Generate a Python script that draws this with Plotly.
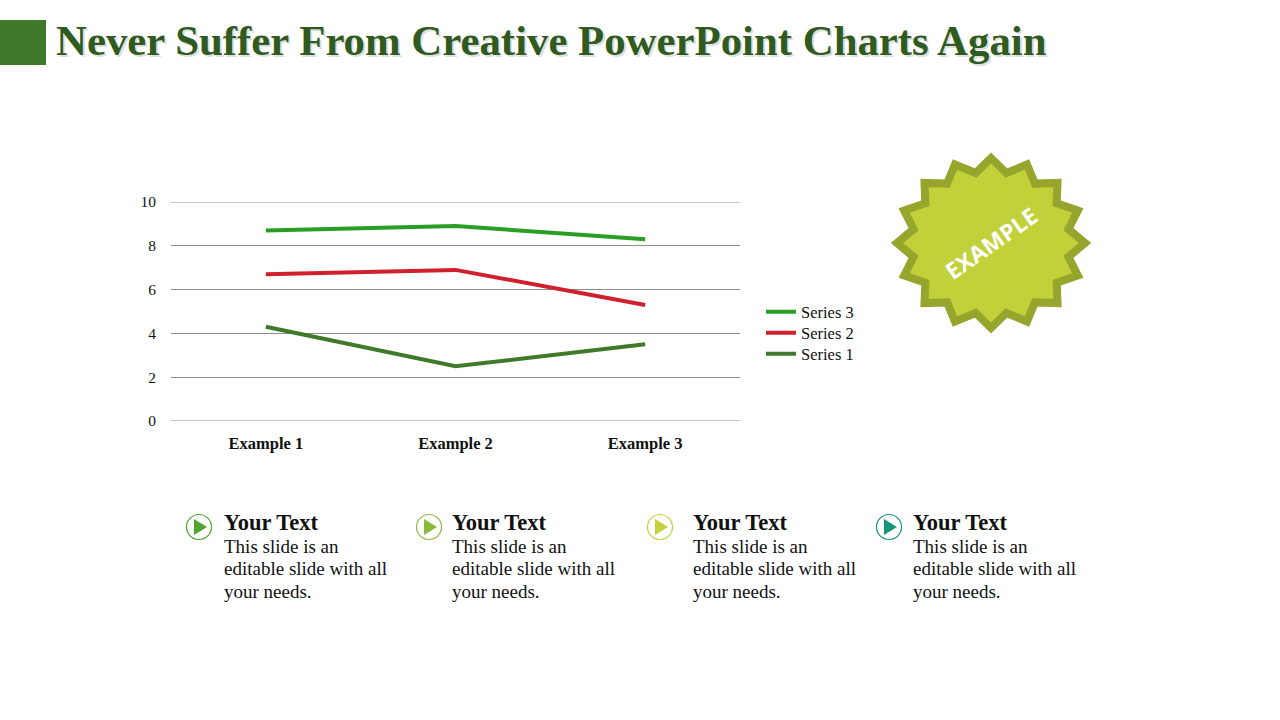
import math
import plotly.graph_objects as go

categories = ["Example 1", "Example 2", "Example 3"]
series1 = [4.3, 2.5, 3.5]
series2 = [6.7, 6.9, 5.3]
series3 = [8.7, 8.9, 8.3]
series_names = ["Series 1", "Series 2", "Series 3"]
series_colors = ["#3f7a2a", "#d0202e", "#2a9e24"]
y_ticks = [0, 2, 4, 6, 8, 10]

title_text = "Never Suffer From Creative PowerPoint Charts Again"
item_titles = ["Your Text", "Your Text", "Your Text", "Your Text"]
item_lines = ["This slide is an", "editable slide with all", "your needs."]
icon_colors = ["#4fa42f", "#8aba3a", "#c3d23a", "#14967a"]
icon_x = [199, 429, 660, 889]
text_x = [223, 451, 692, 912]

SERIF = "Liberation Serif, DejaVu Serif, serif"

legend_ids = ["legend3", "legend2", "legend"]  # Series 1 lowest, Series 3 top
legend_y = [354, 333, 312]

fig = go.Figure()
for name, vals, col, lid in zip(series_names, [series1, series2, series3], series_colors, legend_ids):
    fig.add_trace(go.Scatter(x=categories, y=vals, name=name, mode="lines", legend=lid,
                             line=dict(color=col, width=4), xaxis="x", yaxis="y"))

# invisible overlay axis in pixel space for decorations
fig.add_trace(go.Scatter(x=[0], y=[0], mode="markers", marker=dict(opacity=0),
                         showlegend=False, hoverinfo="skip", xaxis="x2", yaxis="y2"))

shapes = []
# gridlines at the range ends (plotly hides them at the edges)
for yv in (y_ticks[0], y_ticks[-1]):
    shapes.append(dict(type="line", xref="x domain", yref="y", x0=0, x1=1, y0=yv, y1=yv,
                       line=dict(color="#8c8c8c", width=1), layer="below"))

shapes.append(dict(type="rect", xref="x2", yref="y2", x0=0, x1=46, y0=20, y1=65,
                   fillcolor="#3f7a2a", line=dict(width=0), layer="above"))

# starburst
cx, cy, rx, ry = 991, 243, 94, 85
n = 16
pts = []
for i in range(2 * n):
    ang = math.pi / 2 - i * math.pi / n
    r = 1.0 if i % 2 == 0 else 0.84
    pts.append((cx + rx * r * math.cos(ang), cy - ry * r * math.sin(ang)))
path = "M " + " L ".join(f"{x:.1f},{y:.1f}" for x, y in pts) + " Z"
shapes.append(dict(type="path", xref="x2", yref="y2", path=path,
                   fillcolor="#c1d13a", line=dict(color="#97a52d", width=8), layer="above"))

for ix, col in zip(icon_x, icon_colors):
    iy = 527
    shapes.append(dict(type="circle", xref="x2", yref="y2", x0=ix - 12.5, x1=ix + 12.5,
                       y0=iy - 12.5, y1=iy + 12.5, fillcolor="white",
                       line=dict(color=col, width=1.2), layer="above"))
    tri = f"M {ix-5},{iy-8} L {ix-5},{iy+8} L {ix+8},{iy} Z"
    shapes.append(dict(type="path", xref="x2", yref="y2", path=tri, fillcolor=col,
                       line=dict(width=0), layer="above"))

annotations = []
annotations.append(dict(xref="x2", yref="y2", x=56, y=42, text=f"<b>{title_text}</b>",
                        showarrow=False, xanchor="left", yanchor="middle",
                        font=dict(family=SERIF, size=42.8, color="rgba(0,0,0,0.15)")))
annotations.append(dict(xref="x2", yref="y2", x=54, y=40, text=f"<b>{title_text}</b>",
                        showarrow=False, xanchor="left", yanchor="middle",
                        font=dict(family=SERIF, size=42.8, color="#2f5a20")))
annotations.append(dict(xref="x2", yref="y2", x=cx, y=cy, text="<b>EXAMPLE</b>",
                        showarrow=False, textangle=-35, xanchor="center", yanchor="middle",
                        font=dict(family="Open Sans, sans-serif", size=23, color="white")))
for tx, t in zip(text_x, item_titles):
    annotations.append(dict(xref="x2", yref="y2", x=tx - 1, y=522, text=f"<b>{t}</b>",
                            showarrow=False, xanchor="left", yanchor="middle",
                            font=dict(family=SERIF, size=22.5, color="#111111")))
    for k, line in enumerate(item_lines):
        annotations.append(dict(xref="x2", yref="y2", x=tx - 1, y=546 + 22.5 * k, text=line,
                                showarrow=False, xanchor="left", yanchor="middle", align="left",
                                font=dict(family=SERIF, size=19, color="#111111")))

legend_style = dict(xanchor="left", yanchor="middle", bgcolor="rgba(0,0,0,0)",
                    font=dict(family=SERIF, size=16.5, color="#111111"))
legend_layout = {}
for lid, ly in zip(legend_ids, legend_y):
    legend_layout[lid] = dict(x=761 / 1280, y=1 - ly / 720, **legend_style)

fig.update_layout(
    width=1280, height=720, margin=dict(l=0, r=0, t=0, b=0, autoexpand=False),
    paper_bgcolor="white", plot_bgcolor="rgba(0,0,0,0)",
    showlegend=True,
    xaxis=dict(domain=[171 / 1280, 740 / 1280], range=[-0.5, 2.5], showgrid=False,
               showline=False, zeroline=False, ticks="",
               tickfont=dict(family=SERIF, size=16.5, color="#111111"),
               tickvals=categories, ticktext=[f"<b>{c}</b>" for c in categories],
               anchor="y", ticklabelstandoff=10),
    yaxis=dict(domain=[1 - 421 / 720, 1 - 202 / 720], range=[0, 10], tickvals=y_ticks,
               showgrid=True, gridcolor="#8c8c8c", gridwidth=1, zeroline=False,
               showline=False, ticks="", ticklabelstandoff=14, anchor="x",
               tickfont=dict(family=SERIF, size=15.5, color="#111111")),
    xaxis2=dict(domain=[0, 1], range=[0, 1280], visible=False, fixedrange=True, anchor="y2"),
    yaxis2=dict(domain=[0, 1], range=[720, 0], visible=False, fixedrange=True, anchor="x2"),
    shapes=shapes, annotations=annotations,
    **legend_layout,
)
fig.write_html("out.html", config={"displayModeBar": False},
               post_script="document.body.style.margin='0';document.body.style.padding='0';")
